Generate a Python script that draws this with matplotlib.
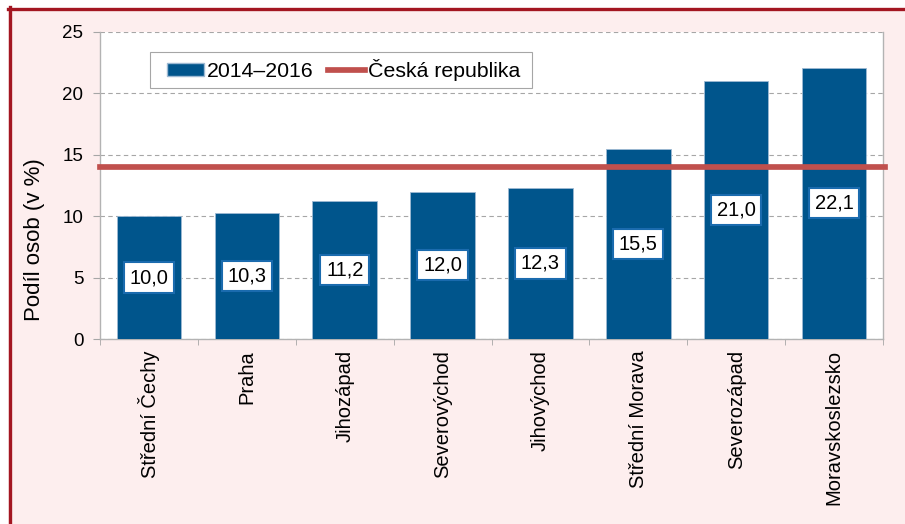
import matplotlib
matplotlib.use("Agg")
import matplotlib.pyplot as plt
from matplotlib.patches import Rectangle
from matplotlib.lines import Line2D
import numpy as np

categories = ["Střední Čechy", "Praha", "Jihozápad", "Severovýchod", "Jihovýchod",
              "Střední Morava", "Severozápad", "Moravskoslezsko"]
values = [10.0, 10.3, 11.2, 12.0, 12.3, 15.5, 21.0, 22.1]
labels = ["10,0", "10,3", "11,2", "12,0", "12,3", "15,5", "21,0", "22,1"]
cr_value = 14.0
series_name = "2014–2016"
line_name = "Česká republika"
ylabel = "Podíl osob (v %)"
yticks = [0, 5, 10, 15, 20, 25]

plt.rcParams['font.family'] = ['Liberation Sans', 'DejaVu Sans']

W, H = 905, 524
fig = plt.figure(figsize=(W / 100, H / 100), dpi=100, facecolor="white")

# pink background + dark red border (left and top)
fig.patches.append(Rectangle((8 / W, 0), 1, 1 - 8 / H, transform=fig.transFigure,
                             facecolor="#FDEEEE", edgecolor="none", zorder=-10))
fig.lines.append(Line2D([9.5 / W, 9.5 / W], [0, 1 - 7 / H], transform=fig.transFigure,
                        color="#A31621", linewidth=2.4, zorder=-5))
fig.lines.append(Line2D([8 / W, 1], [1 - 8.5 / H, 1 - 8.5 / H], transform=fig.transFigure,
                        color="#A31621", linewidth=2.4, zorder=-5))

left, right, top, bottom = 100, 883, 32, 339
aw, ah = right - left, bottom - top
ax = fig.add_axes([left / W, 1 - bottom / H, aw / W, ah / H])
ax.set_facecolor("white")

x = np.arange(len(categories))
bar_color = "#00558C"
red = "#C0504D"
ax.bar(x, values, width=0.66, color=bar_color, edgecolor="#9DB9D3", linewidth=0.6,
       zorder=3, label=series_name)
ax.axhline(cr_value, color=red, linewidth=4.1, zorder=4, clip_on=False,
           xmin=0, xmax=1.003, label=line_name)

for xi, v, lab in zip(x, values, labels):
    ax.text(xi, v / 2, lab, ha="center", va="center", fontsize=14.5, color="black", zorder=6,
            bbox=dict(boxstyle="square,pad=0.28", facecolor="white", edgecolor="#1A6BAE",
                      linewidth=1.5))

ax.set_xlim(-0.5, len(categories) - 0.5)
ax.set_ylim(0, 25)
ax.set_yticks(yticks)
ax.set_yticklabels([str(t) for t in yticks], fontsize=13.5)
ax.yaxis.grid(True, linestyle=(0, (4, 3)), color="#A6A6A6", linewidth=0.8, zorder=0)
ax.set_axisbelow(True)

ax.set_xticks(x)
ax.set_xticklabels(categories, rotation=90, fontsize=14.5, va="top")
ax.set_xticks(np.arange(-0.5, len(categories) + 0.5, 1), minor=True)
ax.tick_params(axis="x", which="major", length=0, pad=8)
ax.tick_params(axis="x", which="minor", length=4.3, color="#A6A6A6")
ax.tick_params(axis="y", length=5, color="#A6A6A6", pad=7)

for s in ["left", "bottom", "right"]:
    ax.spines[s].set_color("#B3B3B3")
    ax.spines[s].set_linewidth(1.0)
ax.spines["top"].set_visible(False)

ax.set_ylabel(ylabel, fontsize=16)
ax.yaxis.set_label_coords((45 - left) / aw, (bottom - 240) / ah)

# legend frame (drawn separately for exact padding)
ax.add_patch(Rectangle(((150 - left) / aw, (bottom - 88) / ah), 382 / aw, 36 / ah,
                       transform=ax.transAxes, facecolor="white", edgecolor="#A6A6A6",
                       linewidth=0.8, zorder=5.5, clip_on=False))
handles = [Rectangle((0, 0), 1, 1, facecolor=bar_color, edgecolor="#9DB9D3"),
           Line2D([0], [0], color=red, linewidth=4.1)]
leg = ax.legend(handles, [series_name, line_name], ncol=2, loc="center left",
                bbox_to_anchor=((167 - left) / aw, (bottom - 70) / ah), fontsize=15.3,
                frameon=False, handlelength=1.75, handleheight=0.55, handletextpad=0.15,
                columnspacing=0.65, borderpad=0, borderaxespad=0)
leg.set_zorder(6)

fig.savefig("out.png", dpi=100, facecolor=fig.get_facecolor())
